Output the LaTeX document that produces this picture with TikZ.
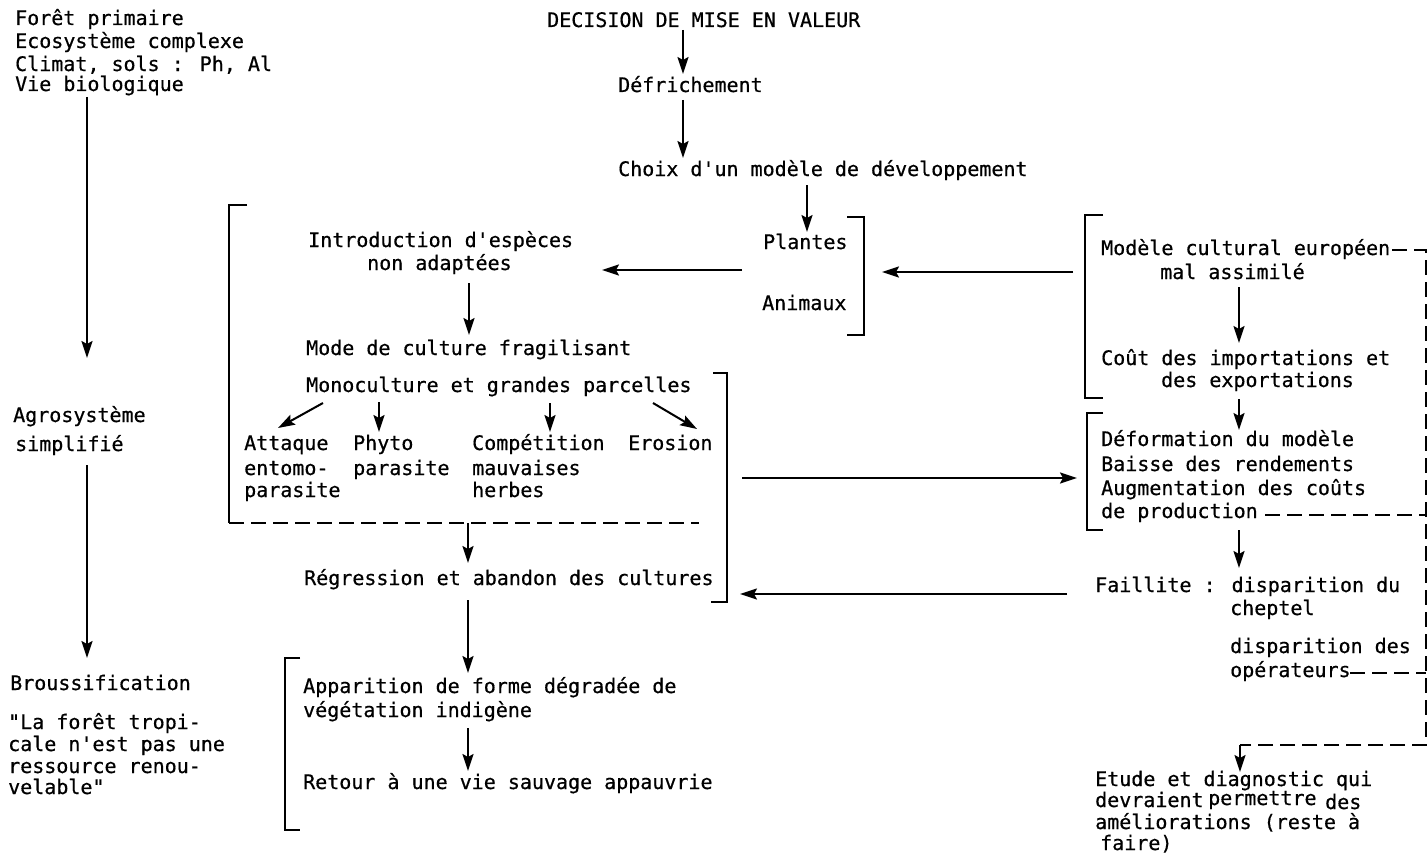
\documentclass[tikz,border=0pt]{standalone}
\usepackage{fontspec}
\newfontfamily\tw[FakeBold=0.6]{DejaVu Sans Mono}
\usetikzlibrary{arrows.meta}
\begin{document}
\begin{tikzpicture}[x=1pt,y=-1pt,
  txt/.style={anchor=base west, inner sep=0pt, font=\tw\fontsize{20}{24}\selectfont},
  arr/.style={line width=2pt, -{Stealth[length=17pt,width=11pt,inset=3pt]}},
  brk/.style={line width=2.2pt},
  dsh/.style={line width=2.4pt, dash pattern=on 15pt off 7pt}]
\fill[white] (0,0) rectangle (1428,859);
\useasboundingbox (0,0) rectangle (1428,859);

% ---------- left column ----------
\node[txt] (f1) at (15,25) {Forêt primaire};
\node[txt] (f2) at (15,48) {Ecosystème complexe};
\node[txt] (f3) at (15,71) {Climat, sols : Ph, Al};
\node[txt] (f4) at (15,91) {Vie biologique};
\node[txt] (ag1) at (13,422) {Agrosystème};
\node[txt] (ag2) at (15,451) {simplifié};
\node[txt] (br) at (10,690) {Broussification};
\node[txt] (q1) at (8,729) {"La forêt tropi-};
\node[txt] (q2) at (8,751) {cale n'est pas une};
\node[txt] (q3) at (8,773) {ressource renou-};
\node[txt] (q4) at (8,794) {velable"};
\coordinate (l1a) at (87,97);  \coordinate (l1b) at (87,358);
\coordinate (l2a) at (87,465); \coordinate (l2b) at (87,658);
\draw[arr] (l1a) -- (l1b);
\draw[arr] (l2a) -- (l2b);

% ---------- top centre ----------
\node[txt] (dec) at (547,27) {DECISION DE MISE EN VALEUR};
\node[txt] (def) at (618,92) {Défrichement};
\node[txt] (cho) at (618,176) {Choix d'un modèle de développement};
\coordinate (c1a) at (683,30);  \coordinate (c1b) at (683,74);
\coordinate (c2a) at (683,100); \coordinate (c2b) at (683,158);
\coordinate (c3a) at (807,185); \coordinate (c3b) at (807,232);
\draw[arr] (c1a) -- (c1b);
\draw[arr] (c2a) -- (c2b);
\draw[arr] (c3a) -- (c3b);
\node[txt] (pl) at (763,249) {Plantes};
\node[txt] (an) at (762,310) {Animaux};
\draw[brk] (847,217) -- (864,217) -- (864,335) -- (847,335);

% ---------- middle block ----------
\draw[brk] (247,205) -- (229,205) -- (229,523);
\draw[dsh] (229,523) -- (699,523);
\node[txt] (in1) at (308,247) {Introduction d'espèces};
\node[txt] (in2) at (367,270) {non adaptées};
\node[txt] (mo1) at (306,355) {Mode de culture fragilisant};
\node[txt] (mo2) at (306,392) {Monoculture et grandes parcelles};
\draw[brk] (713,373) -- (727,373) -- (727,602) -- (711,602);
\node[txt] (at1) at (244,450) {Attaque};
\node[txt] (at2) at (244,475) {entomo-};
\node[txt] (at3) at (244,497) {parasite};
\node[txt] (ph1) at (353,450) {Phyto};
\node[txt] (ph2) at (353,475) {parasite};
\node[txt] (co1) at (472,450) {Compétition};
\node[txt] (co2) at (472,475) {mauvaises};
\node[txt] (co3) at (472,497) {herbes};
\node[txt] (er) at (628,450) {Erosion};
\coordinate (m1a) at (469,283); \coordinate (m1b) at (469,335);
\draw[arr] (m1a) -- (m1b);
\coordinate (d1a) at (323,403); \coordinate (d1b) at (278,428);
\coordinate (d2a) at (379,402); \coordinate (d2b) at (379,432);
\coordinate (d3a) at (550,403); \coordinate (d3b) at (550,432);
\coordinate (d4a) at (653,403); \coordinate (d4b) at (697,429);
\draw[arr] (d1a) -- (d1b);
\draw[arr] (d2a) -- (d2b);
\draw[arr] (d3a) -- (d3b);
\draw[arr] (d4a) -- (d4b);
\node[txt] (reg) at (304,585) {Régression et abandon des cultures};
\coordinate (r1a) at (468,523); \coordinate (r1b) at (468,563);
\coordinate (r2a) at (468,600); \coordinate (r2b) at (468,673);
\draw[arr] (r1a) -- (r1b);
\draw[arr] (r2a) -- (r2b);
\draw[brk] (300,658) -- (285,658) -- (285,830) -- (300,830);
\node[txt] (ap1) at (303,693) {Apparition de forme dégradée de};
\node[txt] (ap2) at (303,717) {végétation indigène};
\node[txt] (ret) at (303,789) {Retour à une vie sauvage appauvrie};
\coordinate (r3a) at (468,728); \coordinate (r3b) at (468,771);
\draw[arr] (r3a) -- (r3b);

% ---------- horizontal links ----------
\coordinate (h1a) at (1073,272); \coordinate (h1b) at (882,272);
\coordinate (h2a) at (742,270);  \coordinate (h2b) at (602,270);
\coordinate (h3a) at (742,478);  \coordinate (h3b) at (1077,478);
\coordinate (h4a) at (1067,594); \coordinate (h4b) at (740,594);
\draw[arr] (h1a) -- (h1b);
\draw[arr] (h2a) -- (h2b);
\draw[arr] (h3a) -- (h3b);
\draw[arr] (h4a) -- (h4b);

% ---------- right block ----------
\draw[brk] (1103,215) -- (1085,215) -- (1085,398) -- (1103,398);
\node[txt] (eu1) at (1101,255) {Modèle cultural européen};
\node[txt] (eu2) at (1160,279) {mal assimilé};
\node[txt] (ct1) at (1101,365) {Coût des importations et};
\node[txt] (ct2) at (1161,387) {des exportations};
\coordinate (e1a) at (1239,287); \coordinate (e1b) at (1239,343);
\coordinate (e2a) at (1239,399); \coordinate (e2b) at (1239,430);
\draw[arr] (e1a) -- (e1b);
\draw[arr] (e2a) -- (e2b);
\draw[brk] (1103,413) -- (1087,413) -- (1087,530) -- (1103,530);
\node[txt] (df1) at (1101,446) {Déformation du modèle};
\node[txt] (df2) at (1101,471) {Baisse des rendements};
\node[txt] (df3) at (1101,495) {Augmentation des coûts};
\node[txt] (df4) at (1101,518) {de production};
\coordinate (e3a) at (1239,530); \coordinate (e3b) at (1239,568);
\draw[arr] (e3a) -- (e3b);
\node[txt] (fa1) at (1095,592) {Faillite : disparition du};
\node[txt] (fa2) at (1230,615) {cheptel};
\node[txt] (fa3) at (1230,653) {disparition des};
\node[txt] (fa4) at (1230,677) {opérateurs};
\node[txt] (et1) at (1095,786) {Etude et diagnostic qui};
\node[txt] (et2) at (1095,807) {devraient};
\node[txt] (et2b) at (1208,805) {permettre};
\node[txt] (et2c) at (1325,809) {des};
\node[txt] (et3) at (1095,829) {améliorations (reste à};
\node[txt] (et4) at (1100,850) {faire)};

% dashed feedback
\coordinate (k0) at (1392,250);
\coordinate (k1) at (1426,250);
\coordinate (k2) at (1426,745);
\coordinate (k3) at (1240,745);
\coordinate (k4) at (1240,772);
\coordinate (p1) at (1265,515);
\coordinate (p2) at (1426,515);
\coordinate (o1) at (1350,673);
\coordinate (o2) at (1426,673);
\draw[dsh] (k0) -- (k1) -- (k2) -- (k3);
\draw[dsh] (p1) -- (p2);
\draw[dsh] (o1) -- (o2);
\draw[arr] (k3) -- (k4);
\end{tikzpicture}
\end{document}
